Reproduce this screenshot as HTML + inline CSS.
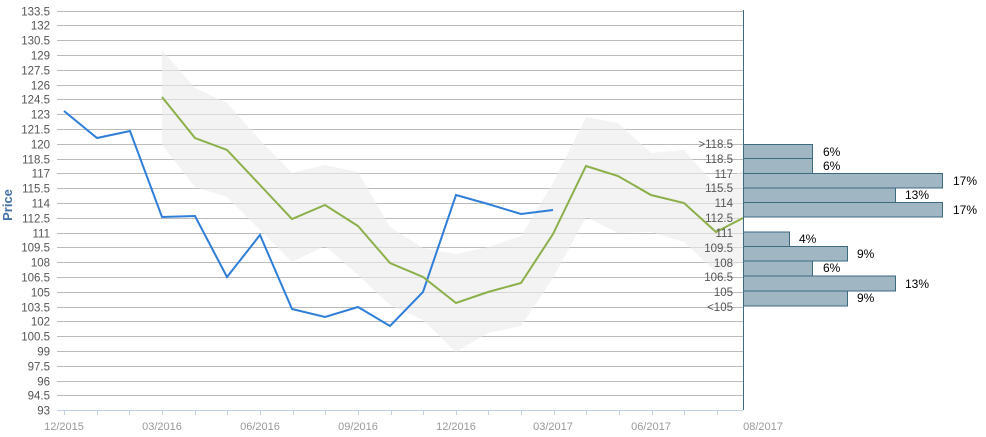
<!DOCTYPE html>
<html><head><meta charset="utf-8"><style>body{margin:0;background:#fff}svg{display:block;font-family:"Liberation Sans",sans-serif}</style></head><body>
<svg width="986" height="437" viewBox="0 0 986 437">
<g id="grid" stroke="#bbb" stroke-width="1"></g>
<g id="ylab" font-size="11.5" fill="#555" text-anchor="end"></g>
<polygon fill="#ebebeb" fill-opacity="0.6" points="162,50 195,88 227,103 260,140 292,173 325,165 358,172 390,227 423,248 456,254 488,247 521,236 553,183 586,117 618,123 651,153 684,150 716,186 743,170 743,262 716,272 684,242 651,232 618,233 586,217 553,278 521,326 488,333 456,352 423,320 390,305 358,275 325,246 292,262 260,230 227,197 195,187 162,145"/>
<polyline fill="none" stroke="#2f7ed8" stroke-width="2" points="64,111 97,138 130,131 162,217 195,216 227,277 260,235 292,309 325,317 358,307 390,326 423,292 456,195 488,204 521,214 553,210"/>
<polyline fill="none" stroke="#8bb04a" stroke-width="2" points="162,97 195,138 227,150 260,185 292,219 325,205 358,226 390,263 423,277 456,303 488,292 521,283 553,234 586,166 618,176 651,195 684,203 716,232 743,218"/>
<line x1="57" y1="410.5" x2="743" y2="410.5" stroke="#c0d0e0"/>
<g id="xt" stroke="#c0d0e0"></g>
<g font-size="11" fill="#999" text-anchor="middle">
<text x="64" y="430">12/2015</text><text x="162" y="430">03/2016</text><text x="260" y="430">06/2016</text><text x="358" y="430">09/2016</text><text x="456" y="430">12/2016</text><text x="553" y="430">03/2017</text><text x="651" y="430">06/2017</text><text x="763" y="430">08/2017</text>
</g>
<text transform="translate(12,205) rotate(-90)" font-size="13" font-weight="bold" fill="#4572a7" text-anchor="middle">Price</text>
<g fill="#a0b6c3" stroke="#3e6a80" stroke-width="1">
<rect x="743.5" y="144.5" width="69" height="14"/><rect x="743.5" y="158.5" width="69" height="15"/><rect x="743.5" y="173.5" width="199" height="14.5"/><rect x="743.5" y="188" width="152" height="14.5"/><rect x="743.5" y="202.5" width="199" height="14.5"/>
<rect x="743.5" y="232" width="46" height="14.5"/><rect x="743.5" y="246.5" width="104" height="14.5"/><rect x="743.5" y="261" width="69" height="15"/><rect x="743.5" y="276" width="152" height="15"/><rect x="743.5" y="291" width="104" height="15"/>
</g>
<line x1="743.5" y1="10" x2="743.5" y2="410" stroke="#3e6a80"/>
<g font-size="12" fill="#000">
<text x="823" y="156">6%</text><text x="823" y="170">6%</text><text x="953" y="185">17%</text><text x="905" y="199">13%</text><text x="953" y="214">17%</text>
<text x="799" y="243">4%</text><text x="857" y="258">9%</text><text x="823" y="272">6%</text><text x="905" y="288">13%</text><text x="857" y="302">9%</text>
</g>
<g font-size="11.5" fill="#555" text-anchor="end">
<text x="733" y="148">&gt;118.5</text><text x="733" y="163">118.5</text><text x="733" y="178">117</text><text x="733" y="192">115.5</text><text x="733" y="207">114</text><text x="733" y="222">112.5</text><text x="733" y="237">111</text><text x="733" y="252">109.5</text><text x="733" y="267">108</text><text x="733" y="281">106.5</text><text x="733" y="296">105</text><text x="733" y="311">&lt;105</text>
</g>
</svg>
<script>
var g=document.getElementById('grid'),l=document.getElementById('ylab'),xt=document.getElementById('xt'),ns='http://www.w3.org/2000/svg';
for(var i=0;i<=27;i++){var y=Math.round(10.5+i*14.8)+0.5;var ln=document.createElementNS(ns,'line');ln.setAttribute('x1',57);ln.setAttribute('x2',743);ln.setAttribute('y1',y);ln.setAttribute('y2',y);g.appendChild(ln);
var t=document.createElementNS(ns,'text');t.setAttribute('x',50);t.setAttribute('y',y+4);var v=133.5-i*1.5;t.textContent=(v%1?v.toFixed(1):v);l.appendChild(t);}
for(var m=0;m<=20;m++){var x=Math.round(64+m*32.65)+0.5;var k=document.createElementNS(ns,'line');k.setAttribute('x1',x);k.setAttribute('x2',x);k.setAttribute('y1',410);k.setAttribute('y2',415);xt.appendChild(k);}
</script>
</body></html>
